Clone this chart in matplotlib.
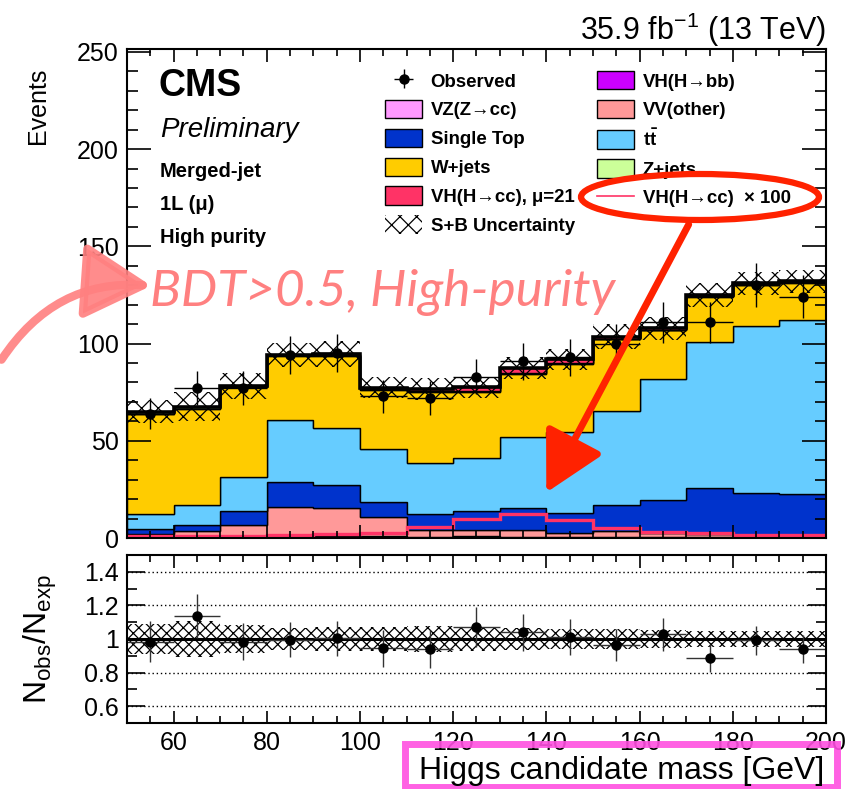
import matplotlib
matplotlib.use('AGG')
import matplotlib.pyplot as plt
from matplotlib.patches import Patch, Ellipse, Rectangle, FancyArrowPatch
from matplotlib.lines import Line2D
from matplotlib.ticker import MultipleLocator, FormatStrFormatter
import numpy as np

plt.rcParams['font.family'] = ['Liberation Sans', 'DejaVu Sans']
plt.rcParams['mathtext.fontset'] = 'custom'
plt.rcParams['mathtext.rm'] = 'Liberation Sans'
plt.rcParams['mathtext.it'] = 'Liberation Sans:italic'
plt.rcParams['mathtext.bf'] = 'Liberation Sans:bold'
plt.rcParams['hatch.linewidth'] = 0.9

W, H = 864, 789

# Higgs candidate mass bins [GeV]
binEdges = [50, 60, 70, 80, 90, 100, 110, 120, 130, 140, 150, 160, 170, 180, 190, 200]

observed = [64, 77, 77, 94, 95, 73, 72, 83, 91, 93, 100, 111, 111, 130, 124]
observedErr = [8.0, 8.8, 8.8, 9.7, 9.7, 8.5, 8.5, 9.1, 9.5, 9.6, 10.0, 10.5, 10.5, 11.4, 11.1]

# Expected yields per process (stack order, bottom to top)
vhbb = [0.1, 0.1, 0.1, 0.2, 0.2, 0.3, 0.4, 0.6, 0.6, 0.4, 0.3, 0.2, 0.2, 0.1, 0.1]
vzcc = [0.1, 0.2, 0.3, 0.5, 0.8, 0.8, 0.3, 0.2, 0.1, 0.1, 0.1, 0.1, 0.1, 0.1, 0.1]
vvOther = [1.9, 3.1, 6.5, 15.1, 14.3, 9.7, 3.4, 3.2, 3.3, 2.3, 3.4, 2.2, 1.7, 1.5, 1.4]
singleTop = [2.4, 3.1, 6.9, 13.1, 11.8, 7.9, 8.3, 9.9, 11.2, 10.0, 13.4, 17.1, 23.6, 21.7, 20.9]
ttbar = [7.7, 10.3, 17.6, 31.9, 29.4, 27.0, 26.4, 27.5, 36.5, 41.5, 48.3, 62.2, 75.4, 85.5, 89.4]
wjets = [51.8, 49.8, 46.1, 32.6, 37.1, 30.3, 36.2, 33.6, 32.8, 35.2, 36.6, 25.0, 23.1, 21.3, 19.4]
zjets = [0.8, 0.8, 0.5, 0.6, 0.5, 0.7, 0.4, 0.4, 0.5, 0.4, 0.4, 0.4, 0.5, 0.5, 0.5]
vhccMu21 = [0.2, 0.2, 0.2, 0.3, 0.5, 0.6, 1.2, 2.1, 2.6, 2.0, 1.1, 0.7, 0.5, 0.4, 0.3]

# Signal shape scaled by 100 (line only)
vhccX100 = [1.0, 1.0, 1.1, 1.4, 2.2, 2.7, 5.6, 9.8, 12.2, 9.3, 5.2, 3.1, 2.4, 1.7, 1.4]

# Relative S+B uncertainty per bin
relUnc = [0.09, 0.11, 0.085, 0.065, 0.07, 0.07, 0.075, 0.07, 0.065, 0.06, 0.06, 0.055, 0.05, 0.045, 0.045]

stackNames = ['VH(H→bb)', 'VZ(Z→cc)', 'VV(other)', 'Single Top', r'$\mathbf{t\bar{t}}$',
              'W+jets', 'Z+jets', 'VH(H→cc), μ=21']
stackColors = ['#cc00ff', '#ff99ff', '#ff9999', '#0033cc', '#66ccff', '#ffcc00', '#ccff99', '#ff3366']
stackValues = [vhbb, vzcc, vvOther, singleTop, ttbar, wjets, zjets, vhccMu21]
signalColor = '#ff3366'


def px(x, y):
    """Pixel position -> figure fraction."""
    return x / W, 1 - y / H


def styleAxis(ax, yMajLen, yMinLen, xMajLen, xMinLen):
    ax.tick_params(which='both', direction='in', top=True, right=True, width=1.2,
                   labelsize=18, pad=6)
    ax.tick_params(axis='y', which='major', length=yMajLen)
    ax.tick_params(axis='y', which='minor', length=yMinLen)
    ax.tick_params(axis='x', which='major', length=xMajLen)
    ax.tick_params(axis='x', which='minor', length=xMinLen)
    for s in ax.spines.values():
        s.set_linewidth(1.5)


edges = np.array(binEdges, dtype=float)
centers = 0.5 * (edges[1:] + edges[:-1])
halfWidth = 0.5 * (edges[1:] - edges[:-1])
obs = np.array(observed, dtype=float)
obsErr = np.array(observedErr, dtype=float)
rel = np.array(relUnc)

fig = plt.figure(figsize=(W / 100, H / 100), dpi=100)
axMain = fig.add_axes([127 / W, 1 - 538 / H, 699 / W, 489 / H])
axRatio = fig.add_axes([127 / W, 1 - 723 / H, 699 / W, 168 / H])

# ---- main panel: stacked expectation
bottom = np.zeros(len(centers))
handles = {}
for name, col, vals in zip(stackNames, stackColors, stackValues):
    top = bottom + np.array(vals)
    axMain.stairs(top, edges, baseline=bottom, fill=True, facecolor=col,
                  edgecolor='black', linewidth=1.0)
    handles[name] = Patch(facecolor=col, edgecolor='black', linewidth=1.0)
    bottom = top
total = bottom

axMain.stairs(total, edges, baseline=None, color='black', linewidth=2.6)
axMain.stairs(vhccX100, edges, baseline=None, color=signalColor, linewidth=2.4)
axMain.stairs(total * (1 + rel), edges, baseline=total * (1 - rel), fill=True,
              facecolor='none', edgecolor='black', hatch='xx', linewidth=0)
obsHandle = axMain.errorbar(centers, obs, yerr=obsErr, xerr=halfWidth, fmt='o',
                            color='black', ms=6.5, elinewidth=1.0, capsize=0)

axMain.set_xlim(50, 200)
axMain.set_ylim(0, 251.5)
axMain.xaxis.set_major_locator(MultipleLocator(20))
axMain.xaxis.set_minor_locator(MultipleLocator(5))
axMain.yaxis.set_major_locator(MultipleLocator(50))
axMain.yaxis.set_minor_locator(MultipleLocator(10))
axMain.tick_params(labelbottom=False)
styleAxis(axMain, 17, 8, 9.5, 5)
axMain.set_ylabel('Events', loc='top', fontsize=18)
axMain.yaxis.set_label_coords(-0.11, 0.962)

uncHandle = Patch(facecolor='white', edgecolor='black', hatch='xx', linewidth=0)
x100Handle = Line2D([], [], color=signalColor, linewidth=1.2)
legHandles = [obsHandle, handles['VZ(Z→cc)'], handles['Single Top'], handles['W+jets'],
              handles['VH(H→cc), μ=21'], uncHandle,
              handles['VH(H→bb)'], handles['VV(other)'], handles[r'$\mathbf{t\bar{t}}$'],
              handles['Z+jets'], x100Handle]
legLabels = ['Observed', 'VZ(Z→cc)', 'Single Top', 'W+jets', 'VH(H→cc), μ=21', 'S+B Uncertainty',
             'VH(H→bb)', 'VV(other)', r'$\mathbf{t\bar{t}}$', 'Z+jets', 'VH(H→cc)  × 100']
axMain.legend(legHandles, legLabels, ncol=2, frameon=False, loc='upper left',
              bbox_to_anchor=px(385, 71), bbox_transform=fig.transFigure,
              prop={'weight': 'bold', 'size': 13.4}, borderpad=0, borderaxespad=0,
              handlelength=2.0, handleheight=1.15, handletextpad=0.45,
              columnspacing=1.2, labelspacing=0.5)

# ---- ratio panel
ratio = obs / total
ratioErr = obsErr / total
axRatio.stairs(1 + rel, edges, baseline=1 - rel, fill=True, facecolor='none',
               edgecolor='black', hatch='xxx', linewidth=0)
for yv in [0.6, 0.8, 1.2, 1.4]:
    axRatio.axhline(yv, color='black', linestyle=(0, (1, 2)), linewidth=1.0)
axRatio.axhline(1.0, color='black', linewidth=2.2)
axRatio.errorbar(centers, ratio, yerr=ratioErr, xerr=halfWidth, fmt='o', color='black',
                 ecolor='#333333', ms=6.5, elinewidth=1.0, capsize=0)
axRatio.set_xlim(50, 200)
axRatio.set_ylim(0.5, 1.5)
axRatio.xaxis.set_major_locator(MultipleLocator(20))
axRatio.xaxis.set_minor_locator(MultipleLocator(5))
axRatio.yaxis.set_major_locator(MultipleLocator(0.2))
axRatio.yaxis.set_minor_locator(MultipleLocator(0.1))
axRatio.yaxis.set_major_formatter(FormatStrFormatter('%g'))
styleAxis(axRatio, 13, 7, 9, 5)
axRatio.set_ylabel(r'N$_{\mathregular{obs}}$/N$_{\mathregular{exp}}$', fontsize=23, labelpad=18)

# ---- labels
fig.text(*px(824, 779), 'Higgs candidate mass [GeV]', ha='right', va='baseline', fontsize=23)
fig.text(*px(826, 40), r'35.9 fb$^{-1}$ (13 TeV)', ha='right', va='baseline', fontsize=22)
fig.text(*px(158, 96), 'CMS', ha='left', va='baseline', fontsize=27, weight='bold')
fig.text(*px(160, 137), 'Preliminary', ha='left', va='baseline', fontsize=20, style='italic')
fig.text(*px(160, 177), 'Merged-jet', ha='left', va='baseline', fontsize=14.5, weight='bold')
fig.text(*px(160, 210), '1L (μ)', ha='left', va='baseline', fontsize=14.5, weight='bold')
fig.text(*px(160, 243), 'High purity', ha='left', va='baseline', fontsize=14.5, weight='bold')

# ---- hand-drawn style callouts
fig.text(*px(150, 292), 'BDT>0.5, High-purity', ha='left', va='center', fontsize=37,
         style='italic', color='#ff8080', family=['Lato', 'DejaVu Sans'])

pinkArrow = FancyArrowPatch(px(0, 362), px(154, 286), transform=fig.transFigure,
                            connectionstyle='arc3,rad=-0.3',
                            arrowstyle='-|>,head_length=1.6,head_width=0.9',
                            mutation_scale=26, color='#ff8080', linewidth=6, alpha=0.9)
fig.patches.append(pinkArrow)

cx, cy = px(700, 197)
ring = Ellipse((cx, cy), 238 / W, 46 / H, transform=fig.transFigure, fill=False,
               edgecolor='#ff2200', linewidth=4.5)
fig.patches.append(ring)

redArrow = FancyArrowPatch(px(690, 222), px(545, 495), transform=fig.transFigure,
                           arrowstyle='-|>,head_length=1.4,head_width=0.75',
                           mutation_scale=26, color='#ff2200', linewidth=5)
fig.patches.append(redArrow)

bx, by = px(405, 787)
box = Rectangle((bx, by), 432 / W, 43 / H, transform=fig.transFigure, fill=False,
                edgecolor='#ff50e0', linewidth=5, alpha=0.9)
fig.patches.append(box)

fig.savefig('out.png', dpi=100)
